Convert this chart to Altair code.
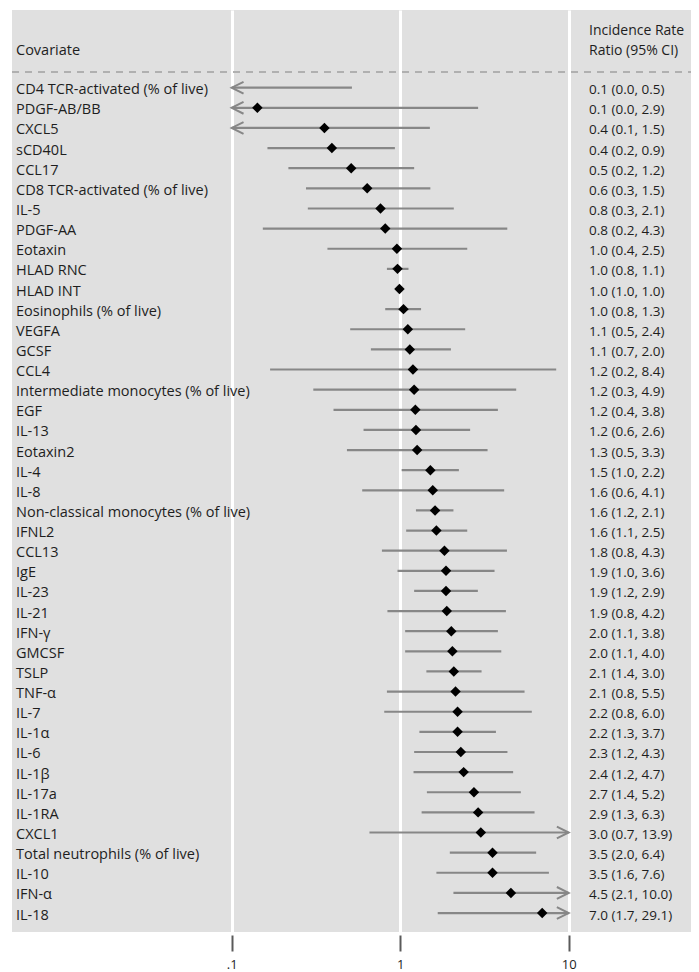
import math
import altair as alt
import pandas as pd

# ---------------- data ----------------
covariates = [
    "CD4 TCR-activated (% of live)", "PDGF-AB/BB", "CXCL5", "sCD40L", "CCL17",
    "CD8 TCR-activated (% of live)", "IL-5", "PDGF-AA", "Eotaxin", "HLAD RNC",
    "HLAD INT", "Eosinophils (% of live)", "VEGFA", "GCSF", "CCL4",
    "Intermediate monocytes (% of live)", "EGF", "IL-13", "Eotaxin2", "IL-4",
    "IL-8", "Non-classical monocytes (% of live)", "IFNL2", "CCL13", "IgE",
    "IL-23", "IL-21", "IFN-γ", "GMCSF", "TSLP",
    "TNF-α", "IL-7", "IL-1α", "IL-6", "IL-1β",
    "IL-17a", "IL-1RA", "CXCL1", "Total neutrophils (% of live)", "IL-10",
    "IFN-α", "IL-18",
]
estimate = [
    0.08, 0.142, 0.355, 0.393, 0.512,
    0.637, 0.764, 0.815, 0.956, 0.964,
    0.99, 1.046, 1.11, 1.14, 1.19,
    1.21, 1.23, 1.24, 1.26, 1.51,
    1.56, 1.61, 1.64, 1.83, 1.87,
    1.87, 1.89, 2.01, 2.04, 2.08,
    2.13, 2.19, 2.19, 2.29, 2.38,
    2.74, 2.90, 3.01, 3.53, 3.53,
    4.54, 6.96,
]
lower = [
    0.03, 0.01, 0.08, 0.163, 0.217,
    0.276, 0.283, 0.153, 0.370, 0.834,
    0.98, 0.815, 0.505, 0.67, 0.169,
    0.305, 0.402, 0.606, 0.483, 1.02,
    0.595, 1.24, 1.085, 0.779, 0.964,
    1.21, 0.84, 1.07, 1.07, 1.43,
    0.834, 0.804, 1.30, 1.21, 1.20,
    1.44, 1.34, 0.657, 1.97, 1.64,
    2.07, 1.67,
]
upper = [
    0.517, 2.90, 1.50, 0.93, 1.21,
    1.51, 2.08, 4.32, 2.50, 1.12,
    1.01, 1.33, 2.43, 2.00, 8.43,
    4.88, 3.80, 2.60, 3.30, 2.23,
    4.14, 2.07, 2.50, 4.30, 3.63,
    2.89, 4.24, 3.80, 3.98, 3.04,
    5.47, 6.04, 3.70, 4.33, 4.68,
    5.20, 6.27, 13.9, 6.41, 7.63,
    10.04, 29.1,
]
ci_text = [
    "0.1 (0.0, 0.5)", "0.1 (0.0, 2.9)", "0.4 (0.1, 1.5)", "0.4 (0.2, 0.9)", "0.5 (0.2, 1.2)",
    "0.6 (0.3, 1.5)", "0.8 (0.3, 2.1)", "0.8 (0.2, 4.3)", "1.0 (0.4, 2.5)", "1.0 (0.8, 1.1)",
    "1.0 (1.0, 1.0)", "1.0 (0.8, 1.3)", "1.1 (0.5, 2.4)", "1.1 (0.7, 2.0)", "1.2 (0.2, 8.4)",
    "1.2 (0.3, 4.9)", "1.2 (0.4, 3.8)", "1.2 (0.6, 2.6)", "1.3 (0.5, 3.3)", "1.5 (1.0, 2.2)",
    "1.6 (0.6, 4.1)", "1.6 (1.2, 2.1)", "1.6 (1.1, 2.5)", "1.8 (0.8, 4.3)", "1.9 (1.0, 3.6)",
    "1.9 (1.2, 2.9)", "1.9 (0.8, 4.2)", "2.0 (1.1, 3.8)", "2.0 (1.1, 4.0)", "2.1 (1.4, 3.0)",
    "2.1 (0.8, 5.5)", "2.2 (0.8, 6.0)", "2.2 (1.3, 3.7)", "2.3 (1.2, 4.3)", "2.4 (1.2, 4.7)",
    "2.7 (1.4, 5.2)", "2.9 (1.3, 6.3)", "3.0 (0.7, 13.9)", "3.5 (2.0, 6.4)", "3.5 (1.6, 7.6)",
    "4.5 (2.1, 10.0)", "7.0 (1.7, 29.1)",
]
tick_values = [0.1, 1, 10]
tick_labels = [".1", "1", "10"]
header_left = "Covariate"
header_right = ["Incidence Rate", "Ratio (95% CI)"]

# ---------------- layout ----------------
W, H = 679, 922
CLIP_LO, CLIP_HI = 0.1, 10
PX_DECADE = 168.5
X_AT_01 = 219.7          # pixel of 0.1 inside the plot area
ROW0, ROW_STEP = 77.7, 20.13

log_lo = -1 - X_AT_01 / PX_DECADE
log_hi = log_lo + W / PX_DECADE
xscale = alt.Scale(type="log", domain=[10 ** log_lo, 10 ** log_hi], nice=False, clamp=False)
yscale = alt.Scale(domain=[-ROW0 / ROW_STEP, (H - ROW0) / ROW_STEP], reverse=True, nice=False, zero=False)

FONT = "Open Sans"
TXT = "#1e1e1e"
LINE = "#878787"

df = pd.DataFrame({
    "covariate": covariates,
    "row": list(range(len(covariates))),
    "est": estimate,
    "lo": lower,
    "hi": upper,
    "txt": ci_text,
})
df["lo_c"] = df["lo"].clip(lower=CLIP_LO)
df["hi_c"] = df["hi"].clip(upper=CLIP_HI)
df["clip_lo"] = CLIP_LO
df["clip_hi"] = CLIP_HI

base = alt.Chart(df)

label_expr = " : ".join(
    [f"datum.value == {v} ? '{l}'" for v, l in zip(tick_values, tick_labels)] + ["''"]
)

ci = base.mark_rule(color=LINE, strokeWidth=2.2).encode(
    x=alt.X("lo_c:Q", scale=xscale, title=None,
            axis=alt.Axis(values=tick_values, labelExpr=label_expr, grid=True,
                          gridColor="white", gridWidth=3, gridOpacity=1,
                          domain=False, tickSize=16, tickWidth=2, tickColor="#5a5a5a",
                          offset=3, labelPadding=7, labelFont=FONT, labelFontSize=13,
                          labelColor=TXT, labelFlush=False)),
    x2="hi_c:Q",
    y=alt.Y("row:Q", scale=yscale, axis=None),
)

left_arrows = base.transform_filter(alt.datum.lo < CLIP_LO).mark_point(
    shape="M1,-0.5L0,0L1,0.5", size=560, filled=False, stroke=LINE, strokeWidth=2,
    opacity=1,
).encode(x=alt.X("clip_lo:Q", scale=xscale), y=alt.Y("row:Q", scale=yscale))

right_arrows = base.transform_filter(alt.datum.hi > CLIP_HI).mark_point(
    shape="M-1,-0.5L0,0L-1,0.5", size=560, filled=False, stroke=LINE, strokeWidth=2,
    opacity=1,
).encode(x=alt.X("clip_hi:Q", scale=xscale), y=alt.Y("row:Q", scale=yscale))

diamonds = base.transform_filter(
    (alt.datum.est >= CLIP_LO) & (alt.datum.est <= CLIP_HI)
).mark_point(shape="diamond", size=110, filled=True, color="black", opacity=1).encode(
    x=alt.X("est:Q", scale=xscale), y=alt.Y("row:Q", scale=yscale)
)

labels = base.mark_text(align="left", baseline="alphabetic", dy=6.5, font=FONT,
                        fontSize=14.5, color=TXT).encode(
    x=alt.value(4), y=alt.Y("row:Q", scale=yscale), text="covariate:N"
)

ci_labels = base.mark_text(align="left", baseline="alphabetic", dy=6.5, font=FONT,
                           fontSize=13.5, color=TXT).encode(
    x=alt.value(577), y=alt.Y("row:Q", scale=yscale), text="txt:N"
)

one = pd.DataFrame({"k": [0]})
dashed = alt.Chart(one).mark_rule(color="#b0b0b0", strokeWidth=2, strokeDash=[7, 6]).encode(
    x=alt.value(0), x2=alt.value(W), y=alt.value(62)
)
h1 = alt.Chart(one).mark_text(align="left", baseline="alphabetic", font=FONT, fontSize=14.5,
                              color=TXT, text=header_left).encode(x=alt.value(4), y=alt.value(45))
h2 = alt.Chart(one).mark_text(align="left", baseline="alphabetic", font=FONT, fontSize=14,
                              color=TXT, text=header_right[0]).encode(x=alt.value(577), y=alt.value(25))
h3 = alt.Chart(one).mark_text(align="left", baseline="alphabetic", font=FONT, fontSize=14,
                              color=TXT, text=header_right[1]).encode(x=alt.value(577), y=alt.value(45))

chart = alt.layer(ci, dashed, left_arrows, right_arrows, diamonds, labels, ci_labels, h1, h2, h3).properties(
    width=W, height=H,
    autosize=alt.AutoSizeParams(type="none"),
    padding={"left": 4, "top": 2, "right": 0, "bottom": 42},
    background="white",
).configure_view(fill="#e0e0e0", strokeWidth=0)

chart.save("out.html", embed_options={"renderer": "svg", "actions": False})
